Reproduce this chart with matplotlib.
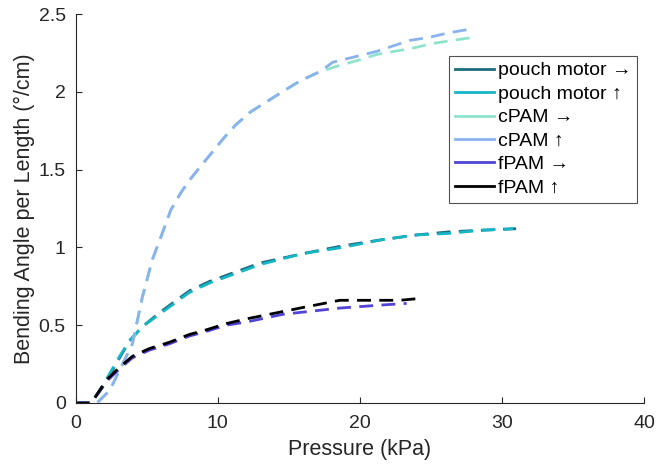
import numpy as np
import matplotlib.pyplot as plt

plt.rcParams['font.family'] = ['Liberation Sans', 'DejaVu Sans']

# pressure (kPa) / bending angle per length (deg/cm)
pm_h_x = [0, 1.1, 1.9, 3.1, 3.8, 4.7, 5.9, 6.8, 8.0, 9.4, 10.6, 13.0, 16.0, 18.8, 21.6, 24.0, 26.3, 28.5, 31.0]
pm_h_y = [0, 0.0, 0.10, 0.29, 0.40, 0.49, 0.58, 0.64, 0.72, 0.78, 0.82, 0.90, 0.96, 1.01, 1.05, 1.08, 1.10, 1.11, 1.12]
pm_v_x = [0, 1.1, 1.9, 3.1, 3.8, 4.7, 5.9, 6.8, 8.0, 9.4, 10.6, 13.0, 16.0, 18.8, 21.6, 24.0, 26.3, 28.5, 30.8]
pm_v_y = [0, 0.0, 0.11, 0.30, 0.40, 0.49, 0.57, 0.63, 0.71, 0.77, 0.81, 0.89, 0.96, 1.00, 1.05, 1.08, 1.09, 1.11, 1.12]

cpam_h_x = [0, 1.5, 2.4, 4.0, 4.7, 5.4, 6.1, 6.7, 7.4, 8.0, 8.7, 9.6, 10.5, 11.3, 12.3, 14.9, 15.8, 17.2, 18.6, 19.8, 21.2, 23.7, 25.1, 26.5, 28.0]
cpam_h_y = [0, 0.0, 0.08, 0.38, 0.68, 0.92, 1.09, 1.24, 1.35, 1.43, 1.51, 1.61, 1.71, 1.79, 1.87, 2.02, 2.07, 2.13, 2.17, 2.20, 2.24, 2.28, 2.31, 2.33, 2.35]
cpam_v_x = [0, 1.5, 2.4, 4.0, 4.7, 5.4, 6.1, 6.7, 7.4, 8.0, 8.7, 9.6, 10.5, 11.3, 12.3, 14.9, 15.8, 17.2, 18.1, 21.2, 23.5, 24.9, 26.3, 27.6, 28.0]
cpam_v_y = [0, 0.0, 0.08, 0.38, 0.68, 0.92, 1.09, 1.24, 1.35, 1.43, 1.51, 1.61, 1.71, 1.79, 1.87, 2.02, 2.07, 2.13, 2.19, 2.26, 2.33, 2.35, 2.38, 2.40, 2.40]

fpam_h_x = [0, 1.1, 2.2, 3.1, 4.0, 5.2, 6.6, 8.0, 9.2, 10.6, 12.0, 14.6, 18.6, 21.6, 23.3]
fpam_h_y = [0, 0.0, 0.14, 0.22, 0.29, 0.34, 0.38, 0.43, 0.46, 0.50, 0.52, 0.57, 0.61, 0.63, 0.64]
fpam_v_x = [0, 1.1, 2.2, 3.1, 4.0, 5.2, 6.6, 8.0, 9.2, 10.6, 12.0, 15.8, 18.6, 21.6, 22.8, 24.0]
fpam_v_y = [0, 0.0, 0.15, 0.23, 0.30, 0.35, 0.39, 0.44, 0.47, 0.51, 0.54, 0.61, 0.66, 0.66, 0.66, 0.67]

labels = ['pouch motor \u2192', 'pouch motor \u2191', 'cPAM \u2192', 'cPAM \u2191', 'fPAM \u2192', 'fPAM \u2191']
colors = ['#1f6b7c', '#16b6c6', '#8fe3cc', '#8ab2ee', '#5143d6', '#000000']

x_ticks = [0, 10, 20, 30, 40]
y_ticks = [0, 0.5, 1, 1.5, 2, 2.5]
y_tick_labels = ['0', '0.5', '1', '1.5', '2', '2.5']

series = [(pm_h_x, pm_h_y), (pm_v_x, pm_v_y), (cpam_h_x, cpam_h_y),
          (cpam_v_x, cpam_v_y), (fpam_h_x, fpam_h_y), (fpam_v_x, fpam_v_y)]

fig = plt.figure(figsize=(6.57, 4.70), dpi=100)
ax = fig.add_axes([0.1150, 0.1426, 0.8652, 0.8276])

for (xs, ys), lab, col in zip(series, labels, colors):
    ax.plot(xs, ys, linestyle=(0, (5, 3)), color=col, linewidth=2, label=lab)

ax.set_xlim(0, 40)
ax.set_ylim(0, 2.5)
ax.set_xticks(x_ticks)
ax.set_yticks(y_ticks)
ax.set_yticklabels(y_tick_labels)
ax.tick_params(direction='in', length=4, labelsize=14, colors='#262626')
ax.tick_params(axis='x', pad=9)
ax.tick_params(axis='y', pad=7)
for s in ['top', 'right']:
    ax.spines[s].set_visible(False)
for s in ['left', 'bottom']:
    ax.spines[s].set_color('#262626')
    ax.spines[s].set_linewidth(0.8)

ax.set_xlabel('Pressure (kPa)', fontsize=15.5, color='#262626', labelpad=5)
ax.set_ylabel('Bending Angle per Length (\u00b0/cm)', fontsize=15.5, color='#262626', labelpad=3)

leg = ax.legend(loc='upper right', bbox_to_anchor=(0.988, 0.892), fontsize=14,
                frameon=True, fancybox=False, edgecolor='#262626', handlelength=2.0,
                handletextpad=0.2, borderpad=0.3, labelspacing=0.3, borderaxespad=0)
leg.get_frame().set_linewidth(0.8)
for line in leg.get_lines():
    line.set_linestyle('-')

fig.savefig('out.png', dpi=100)
